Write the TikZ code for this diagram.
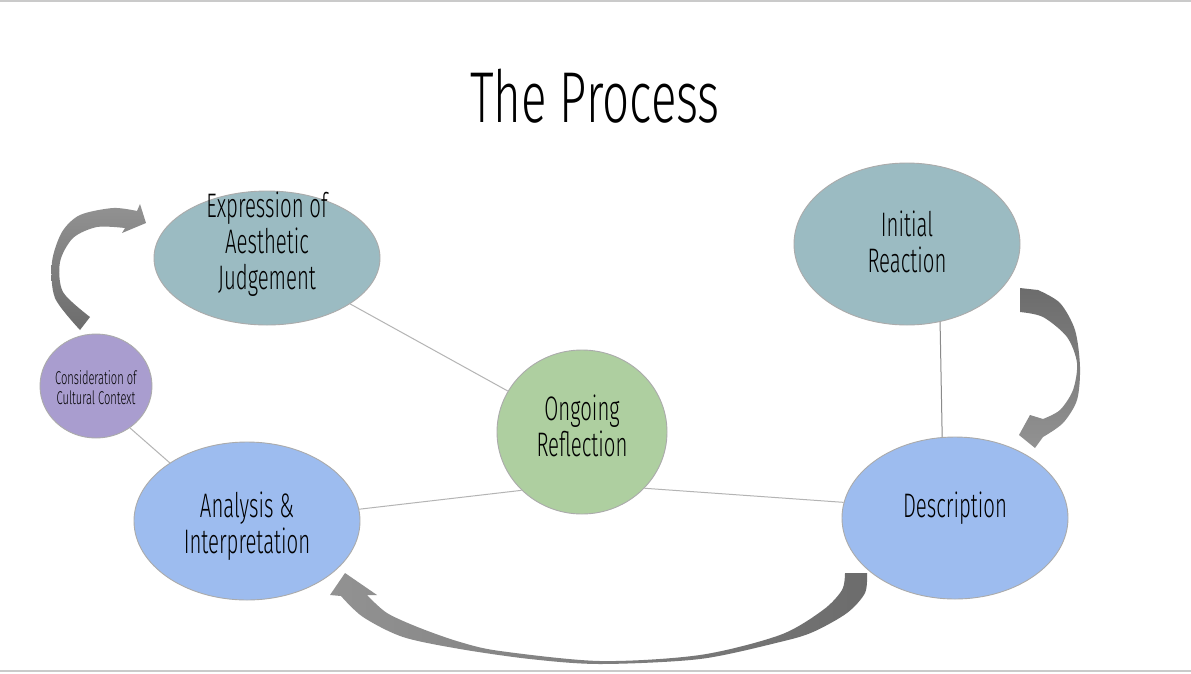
\documentclass[tikz,border=0pt]{standalone}
\usepackage{fontspec}
\setmainfont{Fira Sans Light}[FakeStretch=0.6]
\newfontfamily\titlefont{Fira Sans Light}[FakeStretch=0.66]
\usetikzlibrary{shapes.geometric}
\definecolor{tealf}{HTML}{9BBBC2}
\definecolor{bluef}{HTML}{9DBCEF}
\definecolor{greenf}{HTML}{AECFA0}
\definecolor{purplef}{HTML}{A99DCF}
\definecolor{rimc}{HTML}{ABABAB}
\definecolor{linec}{HTML}{B4B4B4}
\definecolor{linedark}{HTML}{8A8A8A}
\definecolor{arrdark}{HTML}{6C6C6C}
\definecolor{arrlight}{HTML}{929292}
\definecolor{framec}{HTML}{CACACA}
\tikzset{
  bubble/.style={ellipse, draw=rimc, line width=0.9pt, inner sep=0pt},
  txt/.style={align=center, inner sep=0pt, font=\fontsize{34}{36}\selectfont},
  smalltxt/.style={align=center, inner sep=0pt, font=\fontsize{18.5}{20}\selectfont},
  link/.style={draw=linec, line width=1pt},
}
\begin{document}
\begin{tikzpicture}[x=1pt,y=-1pt]
\useasboundingbox (0,0) rectangle (1191,673);
\fill[white] (0,0) rectangle (1191,673);
\draw[framec, line width=1.5pt] (0,0.8) -- (1191,0.8);
\draw[framec, line width=2pt] (0,671) -- (1191,671);

\node[anchor=base, font=\titlefont\fontsize{72}{80}\selectfont] (title) at (595,122) {The Process};

% bubbles
\node[bubble, fill=tealf, minimum width=226pt, minimum height=134pt] (exp) at (267,258) {};
\node[bubble, fill=tealf, minimum width=226pt, minimum height=162pt] (ini) at (907,244) {};
\node[bubble, fill=bluef, minimum width=226pt, minimum height=162pt] (desc) at (955,518) {};
\node[bubble, fill=bluef, minimum width=226pt, minimum height=158pt] (ana) at (247,521) {};
\node[bubble, fill=greenf, minimum width=170pt, minimum height=164pt] (ong) at (582,432) {};
\node[bubble, fill=purplef, minimum width=112pt, minimum height=104pt] (cons) at (96,386) {};

% texts
\node[txt] (expt) at (267,244) {Expression of\\Aesthetic\\Judgement};
\node[txt] (init) at (907,241.5) {Initial\\Reaction};
\node[txt] (desct) at (955,508) {Description};
\node[txt] (anat) at (247,526) {Analysis \&\\Interpretation};
\node[txt] (ongt) at (582,426) {Ongoing\\Reflection};
\node[smalltxt] (const) at (96,388) {Consideration of\\Cultural Context};

% connectors
\draw[link] (exp) -- (ong);
\draw[link] (ong.224) -- (ana.6);
\draw[link] (ong.318) -- (desc.172);
\draw[link, draw=linedark] (ini.293) -- (desc.99);
\draw[link] (cons.309) -- (ana.143);

% curved block arrows
\shade[top color=arrlight, bottom color=arrdark]
  (80,330) -- plot[smooth] coordinates {(80,330) (55,298) (52,262) (62,232) (80,215) (113,208) (137,211)}
  -- (140,204) -- (146,223) -- (122,233) -- (125,228)
  -- plot[smooth] coordinates {(125,228) (97,227) (73,238) (60,262) (63,292) (90,317)} -- cycle;

\shade[top color=arrdark, bottom color=arrlight]
  (1020,288) -- (1038,290)
  -- plot[smooth] coordinates {(1038,290) (1060,303) (1075,330) (1080,367) (1077,400) (1063,423) (1043,437)}
  -- (1035,448) -- (1019,435) -- (1030,415) -- (1043,419)
  -- plot[smooth] coordinates {(1043,419) (1060,410) (1073,390) (1077,363) (1067,337) (1043,317) (1020,312)} -- cycle;

\shade[left color=arrlight, right color=arrdark]
  (867,573) -- (845,573)
  -- plot[smooth] coordinates {(845,573) (842,590) (823,610) (780,635) (700,655) (600,661) (500,651) (460,642) (420,628) (387,613) (367,595)}
  -- (377,595) -- (345,573) -- (330,595) -- (341,596)
  -- plot[smooth] coordinates {(341,596) (363,617) (403,637) (460,649) (530,659) (600,664) (700,659) (780,642) (813,632) (847,613) (865,593) (867,573)} -- cycle;
\end{tikzpicture}
\end{document}
